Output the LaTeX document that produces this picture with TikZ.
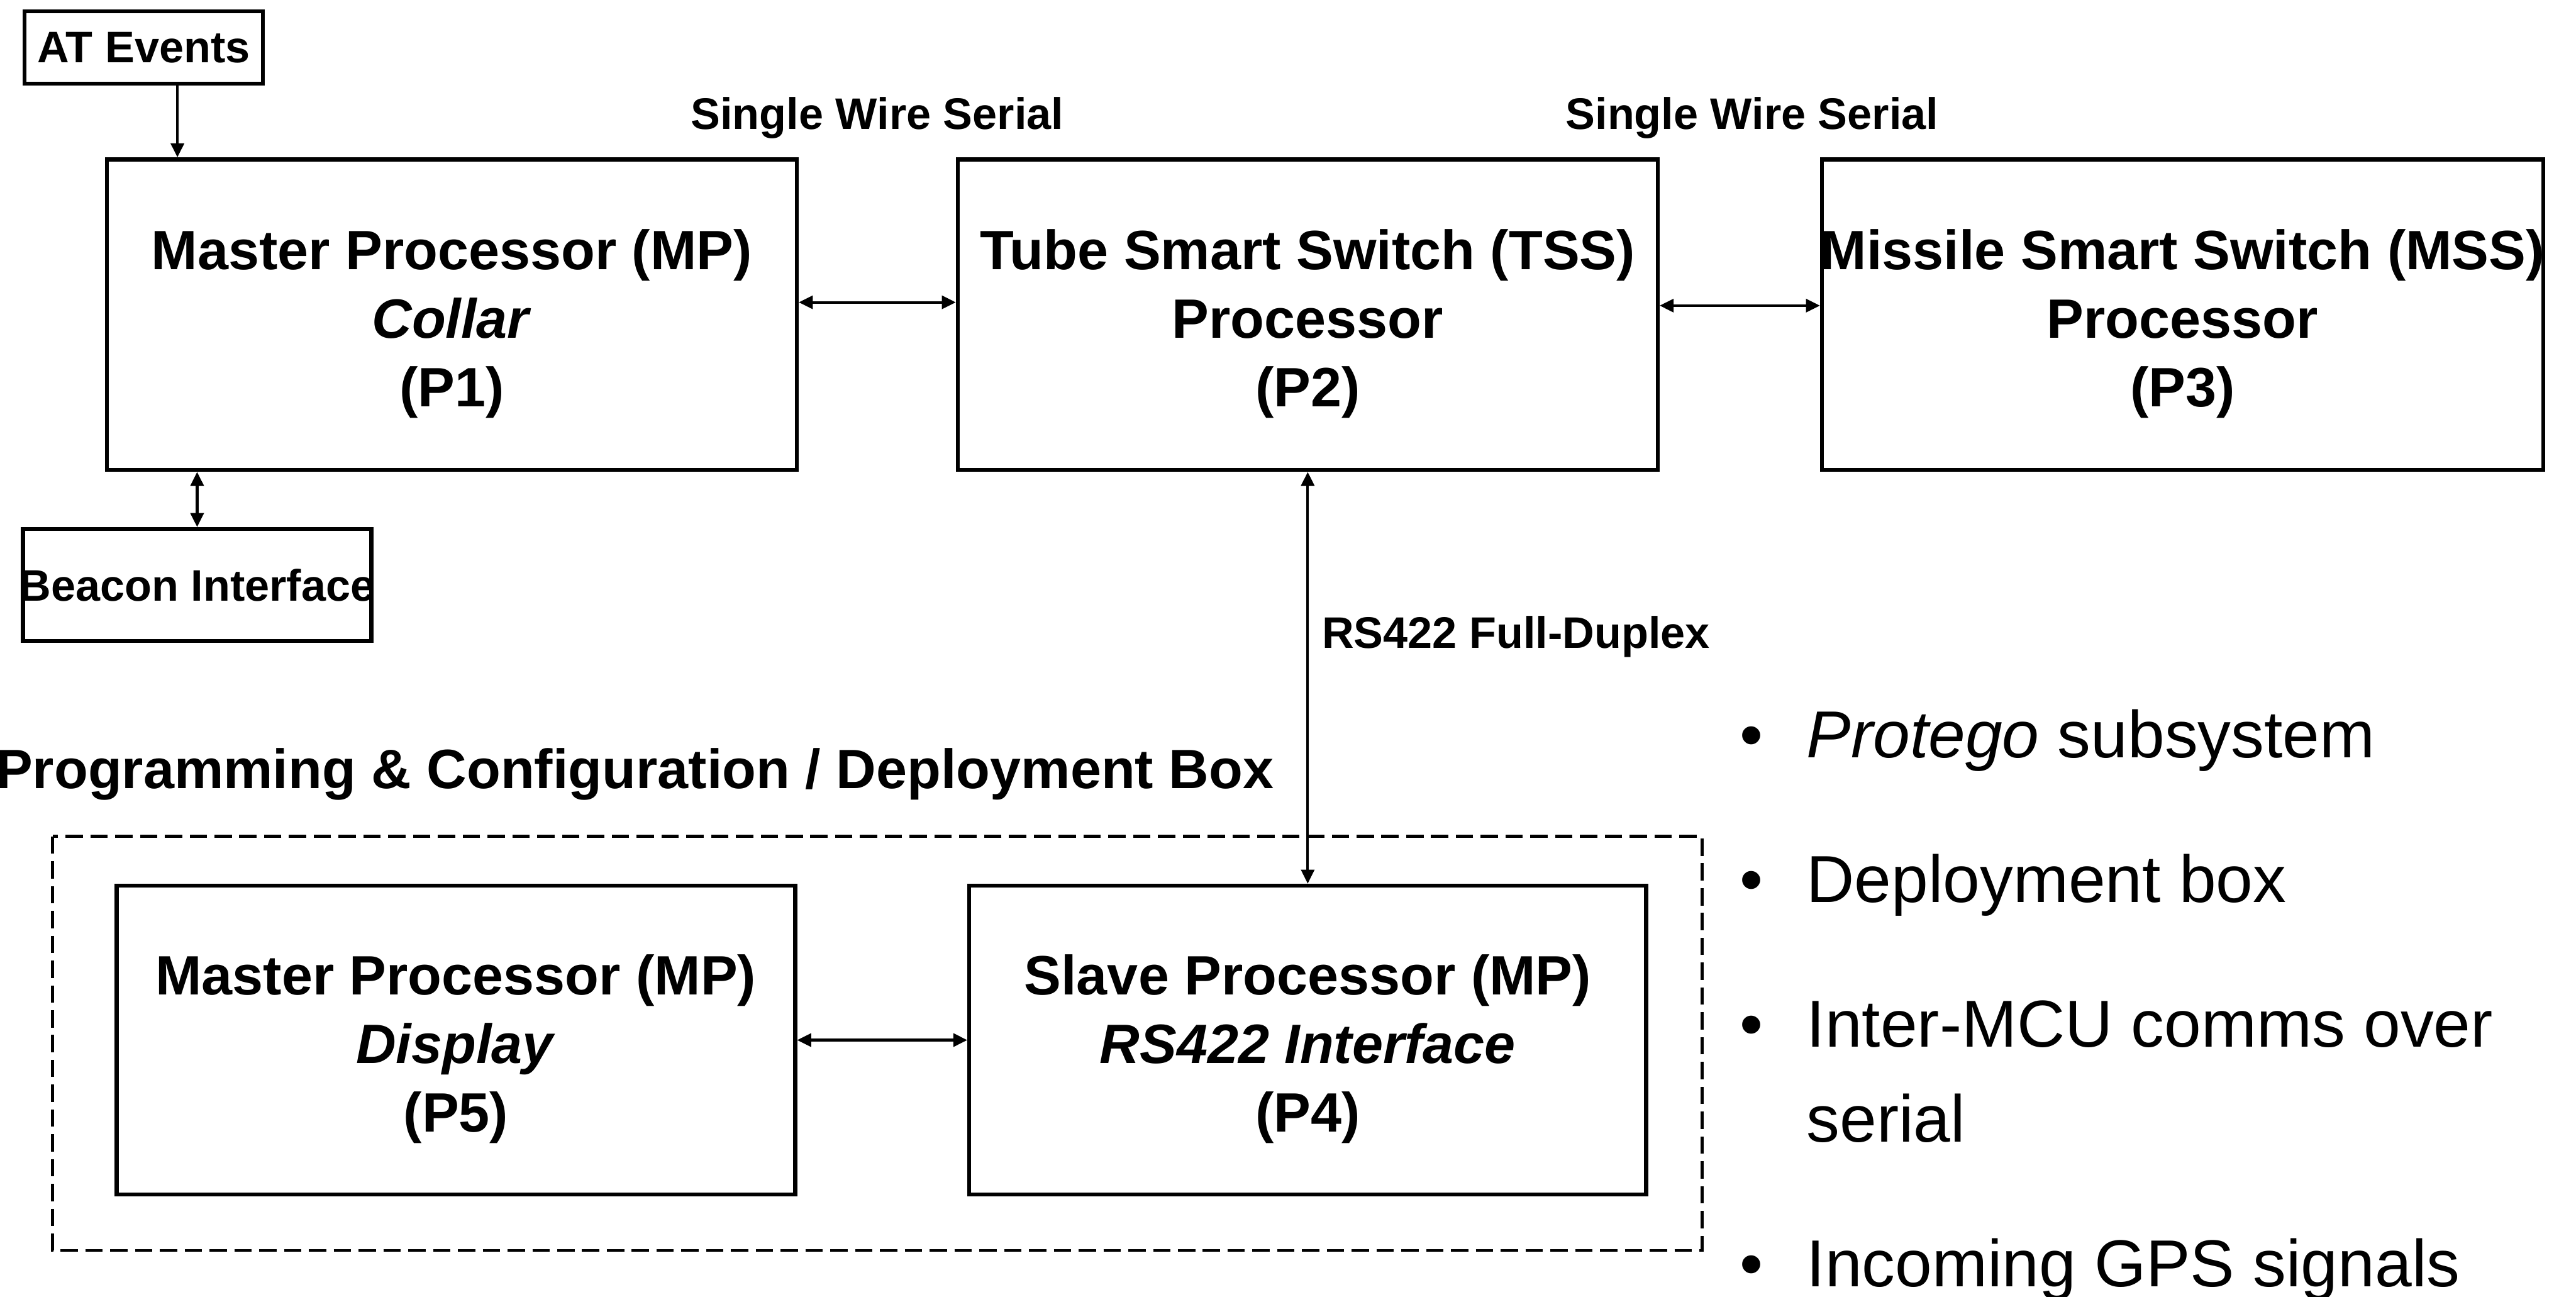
\documentclass[tikz,border=0pt]{standalone}
\usepackage{fontspec}
\setmainfont{Liberation Sans}
\usetikzlibrary{arrows.meta}

\tikzset{
  unitbox/.style={draw, line width=0.7pt, inner sep=0pt, minimum height=1.89cm},
  smallbox/.style={draw, line width=0.7pt, inner sep=0pt},
  boxlbl/.style={font=\fontsize{9.6}{11.9}\selectfont\bfseries, align=center, inner sep=0pt, yshift=-0.055cm},
  smalllbl/.style={font=\fontsize{7.65}{9}\selectfont\bfseries, inner sep=0pt},
  grouplbl/.style={font=\fontsize{9.6}{11.9}\selectfont\bfseries, inner sep=0pt},
  tip/.tip={Triangle[length=0.085cm,width=0.08cm]},
  link/.style={line width=0.45pt, tip-tip},
  feed/.style={line width=0.45pt, -tip},
  groupbox/.style={draw, line width=0.5pt, dash pattern=on 3pt off 1.3pt},
  dot/.style={font=\fontsize{11.5}{16.4}\selectfont, inner sep=0pt},
  itemtxt/.style={font=\fontsize{11.5}{16.4}\selectfont, inner sep=0pt, align=left}
}

\begin{document}
\begin{tikzpicture}
\useasboundingbox (0,0) rectangle (15.68,-7.89);

% --- top row of processors ---
\node[smallbox, minimum width=1.45cm, minimum height=0.44cm] (at) at (0.875,-0.29) {};
\node[smalllbl] (attext) at (at) {AT Events};

\node[unitbox, minimum width=4.20cm] (mp) at (2.75,-1.915) {};
\node[boxlbl] (mptext) at (mp) {Master Processor (MP)\\\textit{Collar}\\(P1)};

\node[unitbox, minimum width=4.26cm] (tss) at (7.96,-1.915) {};
\node[boxlbl] (tsstext) at (tss) {Tube Smart Switch (TSS)\\Processor\\(P2)};

\node[unitbox, minimum width=4.39cm] (mss) at (13.285,-1.915) {};
\node[boxlbl] (msstext) at (mss) {Missile Smart Switch (MSS)\\Processor\\(P3)};

\node[smallbox, minimum width=2.12cm, minimum height=0.68cm] (beacon) at (1.20,-3.56) {};
\node[smalllbl] (beacontext) at (beacon) {Beacon Interface};

% --- link labels ---
\node[smalllbl, anchor=base] (sws1) at (5.34,-0.785) {Single Wire Serial};
\node[smalllbl, anchor=base] (sws2) at (10.665,-0.785) {Single Wire Serial};
\node[smalllbl, anchor=base west] (rs422) at (8.04,-3.945) {RS422 Full-Duplex};

% --- deployment box ---
\node[grouplbl, anchor=base east] (grouptitle) at (7.76,-4.80) {Programming \& Configuration / Deployment Box};
\draw[groupbox] (0.32,-5.09) rectangle (10.36,-7.61);

\node[unitbox, minimum width=4.13cm, minimum height=1.88cm] (p5) at (2.775,-6.33) {};
\node[boxlbl] (p5text) at (p5) {Master Processor (MP)\\\textit{Display}\\(P5)};

\node[unitbox, minimum width=4.12cm, minimum height=1.88cm] (p4) at (7.96,-6.33) {};
\node[boxlbl] (p4text) at (p4) {Slave Processor (MP)\\\textit{RS422 Interface}\\(P4)};

% --- connectors ---
\coordinate (atx) at (1.08,0);
\coordinate (ser1) at (0,-1.84);
\coordinate (ser2) at (0,-1.86);
\draw[feed] (at.south -| atx) -- (mp.north -| atx);
\draw[link] (mp.east |- ser1) -- (tss.west |- ser1);
\draw[link] (tss.east |- ser2) -- (mss.west |- ser2);
\draw[link] (mp.south -| beacon.north) -- (beacon.north);
\draw[link] (tss.south) -- (p4.north);
\draw[link] (p5.east) -- (p4.west);

% --- bullet notes ---
\node[dot, anchor=base] (b1) at (10.66,-4.61) {•};
\node[itemtxt, anchor=base west] (t1) at (10.99,-4.61) {\textit{Protego} subsystem};
\node[dot, anchor=base] (b2) at (10.66,-5.49) {•};
\node[itemtxt, anchor=base west] (t2) at (10.99,-5.49) {Deployment box};
\node[dot, anchor=base] (b3) at (10.66,-6.37) {•};
\node[itemtxt, anchor=base west] (t3) at (10.99,-6.37) {Inter-MCU comms over};
\node[itemtxt, anchor=base west] (t3b) at (10.99,-6.95) {serial};
\node[dot, anchor=base] (b4) at (10.66,-7.83) {•};
\node[itemtxt, anchor=base west] (t4) at (10.99,-7.83) {Incoming GPS signals};
\end{tikzpicture}
\end{document}
